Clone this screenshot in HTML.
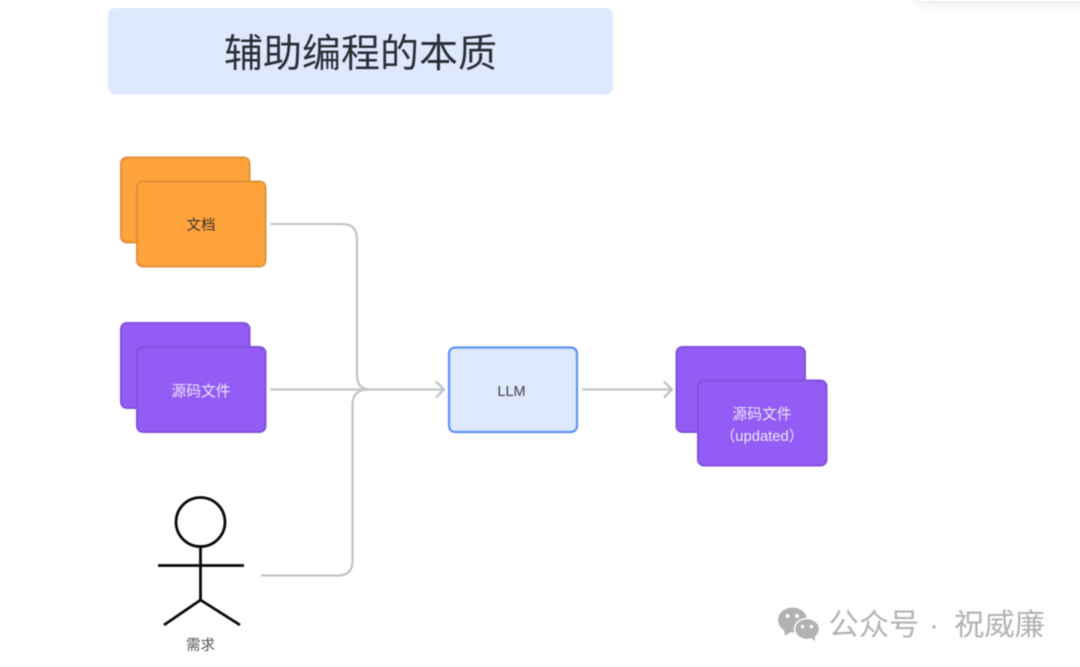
<!DOCTYPE html>
<html lang="zh">
<head>
<meta charset="utf-8">
<style>
html,body{margin:0;padding:0;background:#fff;width:1080px;height:667px;overflow:hidden}
svg{display:block;position:absolute;left:0;top:0;filter:blur(.4px)}
text{font-family:"Liberation Sans","Noto Sans CJK SC",sans-serif;text-anchor:middle}
#panel{position:absolute;left:918px;top:-20px;width:200px;height:20.5px;background:#fff;border-radius:4px;box-shadow:0 0 14px rgba(0,0,0,.13)}
</style>
</head>
<body>
<div id="panel"></div>
<svg width="1080" height="667" viewBox="0 0 1080 667" xmlns="http://www.w3.org/2000/svg">
  <rect x="108" y="8" width="505" height="86.500" rx="7" fill="#dee9fe"/>
  <text x="360.500" y="67" font-size="39" fill="#2b2f36">辅助编程的本质</text>

  <g fill="#ffa33b" stroke="#e0913a" stroke-width="2">
    <rect x="121" y="157.500" width="128.500" height="85" rx="6"/>
    <rect x="137" y="181.500" width="128.500" height="85" rx="6"/>
  </g>
  <text x="201" y="230" font-size="14.500" fill="#3a3530">文档</text>

  <g fill="#925cf5" stroke="#8450dd" stroke-width="2">
    <rect x="121" y="323" width="128.500" height="85" rx="6"/>
    <rect x="137" y="347" width="128.500" height="85" rx="6"/>
  </g>
  <text x="201" y="396" font-size="14.800" fill="#efe6fe">源码文件</text>

  <rect x="449" y="347.500" width="128" height="84.500" rx="6" fill="#dee9fe" stroke="#5b93f8" stroke-width="2.200"/>
  <text x="511.500" y="396" font-size="14.500" fill="#3f434a">LLM</text>

  <g fill="#925cf5" stroke="#8450dd" stroke-width="2">
    <rect x="676.500" y="347" width="128.500" height="85" rx="6"/>
    <rect x="698" y="380.500" width="128.500" height="85" rx="6"/>
  </g>
  <text x="762" y="419" font-size="14.800" fill="#efe6fe">源码文件</text>
  <text x="762" y="441" font-size="14.800" fill="#efe6fe">（updated）</text>

  <g fill="none" stroke="#c2c5c9" stroke-width="2.300" stroke-linecap="round" stroke-linejoin="round">
    <path d="M270 224H342Q357 224 357 239V374Q357 389 368 389" stroke-linecap="butt"/>
    <path d="M270 389.500H444" stroke-linecap="butt"/>
    <path d="M261 575.500H338Q352.500 575.500 352.500 561V405Q352.500 389.500 368 389.500" stroke-linecap="butt"/>
    <path d="M436.500 382L444 389.500L436.500 397"/>
    <path d="M582 389.500H672" stroke-linecap="butt"/>
    <path d="M664.500 382L672 389.500L664.500 397"/>
  </g>

  <g fill="none" stroke="#0a0a0a" stroke-width="2.800">
    <circle cx="200.500" cy="522" r="24.500"/>
    <path d="M200.500 547V600"/>
    <path d="M158 565.500H244"/>
    <path d="M164 625L200.500 600L240 625"/>
  </g>
  <text x="200.500" y="650" font-size="14.500" fill="#555">需求</text>

  <g fill="#b2b2b2">
    <ellipse cx="792.500" cy="620" rx="14.500" ry="12.500"/>
    <path d="M784 629L785 636L792 631Z"/>
    <ellipse cx="807" cy="629" rx="12.500" ry="10.500" stroke="#fff" stroke-width="1.500"/>
    <path d="M810 637L815 641L815 635Z"/>
  </g>
  <g fill="#fff">
    <circle cx="787.500" cy="616" r="2"/><circle cx="797" cy="616" r="2"/>
    <circle cx="802.500" cy="626.500" r="1.700"/><circle cx="811.500" cy="626.500" r="1.700"/>
  </g>
  <text x="874" y="635" font-size="30.300" fill="#b2b2b2">公众号</text>
  <text x="934" y="635" font-size="30.300" fill="#b2b2b2">·</text>
  <text x="999.500" y="635" font-size="30.300" fill="#b2b2b2">祝威廉</text>
</svg>
</body>
</html>
